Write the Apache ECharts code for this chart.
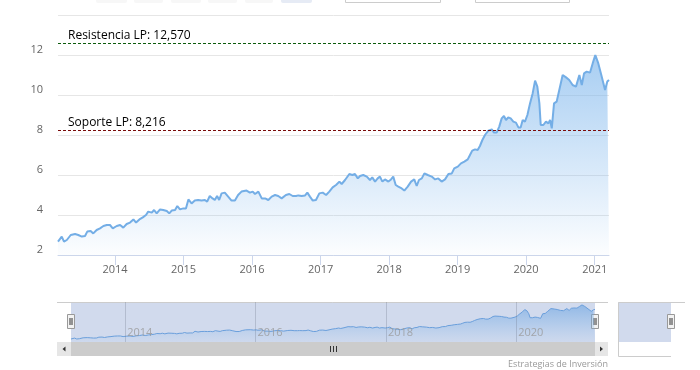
<!DOCTYPE html>
<html><head><meta charset="utf-8">
<script src="https://cdn.jsdelivr.net/npm/echarts@6/dist/echarts.min.js"></script>
<style>html,body{margin:0;padding:0;background:#fff}#c{width:700px;height:370px}</style>
</head><body><div id="c"></div>
<script>
const dates = [
'2013-03-03','2013-03-23','2013-04-04','2013-04-19','2013-05-10','2013-06-02','2013-06-19','2013-07-08','2013-07-25','2013-08-06',
'2013-08-24','2013-09-07','2013-09-25','2013-10-13','2013-10-31','2013-11-18','2013-12-05','2013-12-20','2014-01-10','2014-01-28',
'2014-02-14','2014-03-04','2014-03-22','2014-04-09','2014-04-23','2014-05-11','2014-05-29','2014-06-15','2014-06-27','2014-07-16',
'2014-07-28','2014-08-11','2014-08-29','2014-09-15','2014-10-04','2014-10-17','2014-10-30','2014-11-17','2014-11-29','2014-12-13',
'2014-12-31','2015-01-14','2015-01-27','2015-02-13','2015-03-02','2015-03-20','2015-04-07','2015-04-25','2015-05-07','2015-05-21',
'2015-06-05','2015-06-17','2015-06-29','2015-07-10','2015-07-23','2015-08-09','2015-08-27','2015-09-14','2015-10-02','2015-10-19',
'2015-11-06','2015-12-03','2015-12-21','2016-01-05','2016-01-17','2016-02-04','2016-02-22','2016-03-11','2016-03-28','2016-04-15',
'2016-05-03','2016-05-20','2016-06-07','2016-06-16','2016-06-30','2016-07-18','2016-08-05','2016-08-23','2016-09-04','2016-09-22',
'2016-10-10','2016-10-22','2016-11-05','2016-11-20','2016-12-07','2016-12-25','2017-01-12','2017-01-30','2017-02-16','2017-03-06',
'2017-03-24','2017-04-11','2017-04-23','2017-05-11','2017-06-03','2017-06-19','2017-07-03','2017-07-18','2017-07-30','2017-08-16',
'2017-09-04','2017-09-21','2017-10-03','2017-10-18','2017-11-01','2017-11-13','2017-11-26','2017-12-10','2017-12-28','2018-01-11',
'2018-01-23','2018-02-05','2018-02-19','2018-03-09','2018-03-23','2018-04-10','2018-04-28','2018-05-15','2018-05-28','2018-06-09',
'2018-06-24','2018-07-08','2018-07-26','2018-08-16','2018-09-03','2018-09-20','2018-10-08','2018-10-26','2018-11-13','2018-12-01',
'2018-12-14','2019-01-02','2019-01-19','2019-02-06','2019-02-24','2019-03-08','2019-03-20','2019-04-04','2019-04-18','2019-04-30',
'2019-05-13','2019-05-27','2019-06-14','2019-07-02','2019-07-14','2019-07-28','2019-08-11','2019-08-24','2019-09-05','2019-09-16',
'2019-09-28','2019-10-11','2019-10-25','2019-11-08','2019-11-21','2019-12-03','2019-12-14','2019-12-26','2020-01-08','2020-01-22',
'2020-02-05','2020-02-18','2020-03-01','2020-03-12','2020-03-19','2020-04-02','2020-04-16','2020-04-29','2020-05-08','2020-05-17',
'2020-05-29','2020-06-12','2020-06-26','2020-07-14','2020-08-01','2020-08-18','2020-09-05','2020-09-23','2020-10-11','2020-10-24',
'2020-11-05','2020-11-19','2020-12-07','2020-12-21','2021-01-04','2021-01-20','2021-02-07','2021-02-25','2021-03-09','2021-03-18'
];
const prices = [
2.67,2.92,2.67,2.75,3.00,3.05,3.00,2.92,2.95,3.17,
3.20,3.08,3.25,3.33,3.45,3.50,3.50,3.33,3.45,3.50,
3.37,3.55,3.62,3.78,3.62,3.78,3.88,4.00,4.17,4.12,
4.25,4.08,4.28,4.25,4.20,4.08,4.22,4.25,4.45,4.28,
4.33,4.33,4.78,4.58,4.72,4.75,4.72,4.75,4.67,4.95,
4.83,4.75,4.95,4.75,5.08,5.12,4.92,4.72,4.72,5.00,
5.17,5.22,5.12,5.17,5.05,5.17,4.83,4.83,4.75,4.92,
5.00,4.95,4.83,4.75,5.00,5.05,4.95,4.95,4.98,4.95,
4.98,5.12,4.92,4.72,4.75,5.08,5.12,5.00,5.17,5.38,
5.50,5.67,5.55,5.75,6.05,6.00,6.05,5.83,5.95,6.00,
5.92,5.75,5.88,5.67,5.83,5.92,5.67,5.78,5.67,5.78,
5.92,5.50,5.42,5.33,5.22,5.42,5.67,5.78,5.45,5.75,
5.83,6.08,6.00,5.92,5.78,5.83,5.67,5.78,6.05,6.08,
6.33,6.42,6.58,6.67,6.78,7.00,7.22,7.28,7.25,7.45,
7.75,8.00,8.22,8.28,8.12,8.12,8.42,8.83,8.95,8.75,
8.88,8.83,8.67,8.62,8.38,8.38,8.75,8.67,9.00,9.58,
10.08,10.72,10.42,9.58,8.50,8.50,8.67,8.58,8.75,8.33,
9.58,9.67,10.25,11.00,10.88,10.75,10.50,10.42,11.00,10.50,
11.08,11.17,11.12,11.58,12.00,11.58,10.92,10.25,10.67,10.75
];
const resistance = 12.570;
const support = 8.216;
const yMin = 2, yMax = 14, yStep = 2;
const navTickYears = ['2014', '2016', '2018', '2020'];
const creditText = 'Estrategias de Inversión';

const FONT = '"Open Sans", sans-serif';
const YEAR = 365.25 * 86400000;
const NAV_MIN = 1.85, NAV_MAX = 12.8;
const seriesData = dates.map((d, i) => [d, prices[i]]);
const fmt = v => v.toFixed(3).replace('.', ',');

const chart = echarts.init(document.getElementById('c'), null, {renderer: 'canvas'});

function handle(cx) {
  return {type: 'group', children: [
    {type: 'rect', shape: {x: cx - 3.5, y: 314.5, width: 7, height: 14}, style: {fill: '#f2f2f2', stroke: '#999', lineWidth: 1}},
    {type: 'line', shape: {x1: cx - 1, y1: 318, x2: cx - 1, y2: 325}, style: {stroke: '#333', lineWidth: 1}},
    {type: 'line', shape: {x1: cx + 1, y1: 318, x2: cx + 1, y2: 325}, style: {stroke: '#333', lineWidth: 1}}
  ]};
}
const buttons = [[96,127],[134,163],[171,201],[208,237],[245,273],[281,312]];
const inputs = [[345,440],[475,569]];
const graphics = [];
buttons.forEach((b, i) => graphics.push({type: 'rect', shape: {x: b[0], y: -12, width: b[1]-b[0], height: 15, r: 2},
  style: {fill: i === 5 ? '#e6ebf5' : '#f7f7f7'}}));
inputs.forEach(b => graphics.push({type: 'rect', shape: {x: b[0] + 0.5, y: -12, width: b[1]-b[0], height: 14.5},
  style: {fill: '#fff', stroke: '#cccccc', lineWidth: 1}}));
graphics.push({type: 'line', shape: {x1: 57, y1: 302.5, x2: 608, y2: 302.5}, style: {stroke: '#cccccc', lineWidth: 1}});
graphics.push({type: 'rect', shape: {x: 71, y: 342, width: 524, height: 14}, style: {fill: '#cccccc'}});
graphics.push({type: 'rect', shape: {x: 57, y: 342, width: 14, height: 14}, style: {fill: '#e6e6e6'}});
graphics.push({type: 'rect', shape: {x: 595, y: 342, width: 13, height: 14}, style: {fill: '#e6e6e6'}});
graphics.push({type: 'polygon', shape: {points: [[62.5,349],[65.5,346.5],[65.5,351.5]]}, style: {fill: '#333'}});
graphics.push({type: 'polygon', shape: {points: [[603,349],[600,346.5],[600,351.5]]}, style: {fill: '#333'}});
[330.5, 333.5, 336.5].forEach(x => graphics.push({type: 'line', shape: {x1: x, y1: 346, x2: x, y2: 352}, style: {stroke: '#333', lineWidth: 1}}));
graphics.push({type: 'rect', shape: {x: 618, y: 302, width: 53, height: 40}, style: {fill: 'rgba(102,133,194,0.3)'}});
graphics.push({type: 'polyline', shape: {points: [[685,302.5],[618.5,302.5],[618.5,356.5],[671,356.5]]}, style: {stroke: '#cccccc', lineWidth: 1, fill: null}});
graphics.push(handle(71));
graphics.push(handle(595));
graphics.push(handle(671));
graphics.push({type: 'text', x: 608, y: 364, style: {text: creditText, align: 'right', verticalAlign: 'middle', fill: '#999', font: '9px ' + FONT}});

const option = {
  animation: false,
  backgroundColor: '#fff',
  textStyle: {fontFamily: FONT},
  grid: [
    {left: 58, right: 91, top: 15, bottom: 115},
    {left: 71, right: 105, top: 302, height: 40, show: true, backgroundColor: 'rgba(102,133,194,0.3)', borderWidth: 0}
  ],
  xAxis: [
    {type: 'time', gridIndex: 0, min: 'dataMin', max: 'dataMax', minInterval: YEAR, maxInterval: YEAR,
     axisLine: {lineStyle: {color: '#ccd6eb'}},
     axisTick: {show: true, length: 10, lineStyle: {color: '#ccd6eb'}},
     axisLabel: {formatter: '{yyyy}', color: '#666', fontSize: 11, margin: 9, fontFamily: FONT},
     splitLine: {show: false}},
    {type: 'time', gridIndex: 1, min: 'dataMin', max: 'dataMax',
     axisLine: {show: false}, axisTick: {show: false}, axisLabel: {show: false}, splitLine: {show: false}}
  ],
  yAxis: [
    {type: 'value', gridIndex: 0, min: yMin, max: yMax, interval: yStep,
     axisLine: {show: false}, axisTick: {show: false},
     axisLabel: {color: '#666', fontSize: 11, margin: 15, verticalAlign: 'bottom', showMaxLabel: false, fontFamily: FONT},
     splitLine: {lineStyle: {color: '#e6e6e6'}}},
    {type: 'value', gridIndex: 1, min: NAV_MIN, max: NAV_MAX, show: false, splitLine: {show: false}}
  ],
  series: [
    {type: 'line', xAxisIndex: 0, yAxisIndex: 0, data: seriesData, showSymbol: false, symbol: 'none',
     lineStyle: {color: '#74aee6', width: 2}, z: 3,
     areaStyle: {color: new echarts.graphic.LinearGradient(0, 0, 0, 1, [
       {offset: 0, color: 'rgba(124,181,236,0.95)'}, {offset: 1, color: 'rgba(124,181,236,0.03)'}])},
     markLine: {symbol: 'none', silent: true, animation: false,
       label: {show: true, position: 'insideStartTop', color: '#000', fontSize: 12, distance: [10, 2], fontFamily: FONT},
       data: [
         {yAxis: resistance, lineStyle: {color: '#0b5a0b', type: [3, 2], width: 1}, label: {formatter: 'Resistencia LP: ' + fmt(resistance)}},
         {yAxis: support, lineStyle: {color: '#7a0a0a', type: [3, 2], width: 1}, label: {formatter: 'Soporte LP: ' + fmt(support)}}
       ]}},
    {type: 'line', xAxisIndex: 1, yAxisIndex: 1, data: seriesData, showSymbol: false, symbol: 'none',
     lineStyle: {color: '#6a9fdc', width: 1},
     areaStyle: {color: new echarts.graphic.LinearGradient(0, 0, 0, 1, [
       {offset: 0, color: 'rgba(110,165,225,0.9)'}, {offset: 1, color: 'rgba(124,181,236,0.05)'}])},
     markLine: {symbol: 'none', silent: true, animation: false, label: {show: false},
       lineStyle: {color: 'rgba(110,120,140,0.3)', type: 'solid', width: 1},
       data: navTickYears.map(y => ({xAxis: y + '-01-01'}))}},
    {type: 'scatter', xAxisIndex: 1, yAxisIndex: 1, symbolSize: 0, silent: true, z: 4,
     data: navTickYears.map(y => [y + '-01-01', NAV_MIN]),
     label: {show: true, position: 'right', distance: 2, offset: [0, -9], formatter: p => p.value[0].slice(0, 4),
       color: '#999', fontSize: 11, fontFamily: FONT}}
  ],
  graphic: graphics
};
chart.setOption(option);
</script></body></html>
